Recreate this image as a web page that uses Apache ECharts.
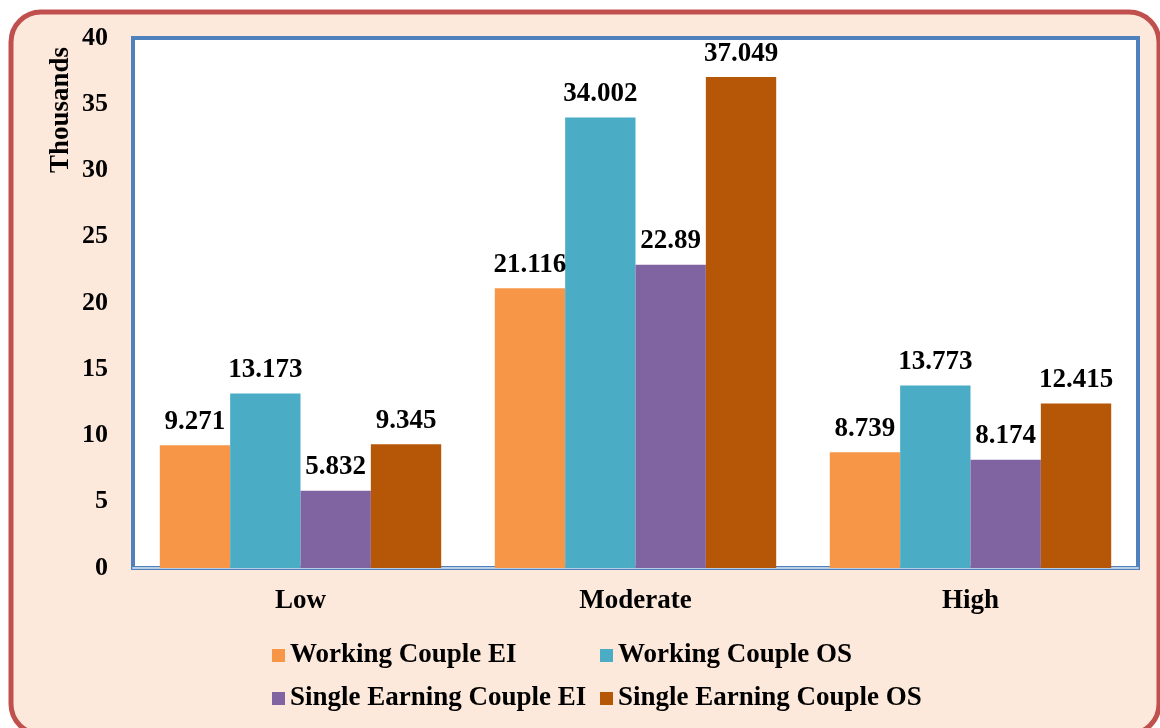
<!DOCTYPE html>
<html>
<head>
<meta charset="utf-8">
<script src="https://cdn.jsdelivr.net/npm/echarts@6/dist/echarts.min.js"></script>
<style>
  html, body { margin: 0; padding: 0; background: #fff; }
  #main { width: 1160px; height: 728px; }
</style>
</head>
<body>
<div id="main"></div>
<script>
// data (values in thousands)
var categories = ['Low', 'Moderate', 'High'];
var workingCoupleEI = [9.271, 21.116, 8.739];
var workingCoupleOS = [13.173, 34.002, 13.773];
var singleEarningEI = [5.832, 22.89, 8.174];
var singleEarningOS = [9.345, 37.049, 12.415];
var seriesNames = ['Working Couple EI', 'Working Couple OS', 'Single Earning Couple EI', 'Single Earning Couple OS'];
var seriesColors = ['#f79646', '#4bacc6', '#8064a2', '#b65708'];
var yTicks = [0, 5, 10, 15, 20, 25, 30, 35, 40];

var font = 'Liberation Serif';

function makeSeries(i, values) {
  return {
    name: seriesNames[i],
    type: 'bar',
    data: values,
    barGap: '0%',
    barCategoryGap: '16%',
    itemStyle: { color: seriesColors[i] },
    label: {
      show: true,
      position: 'top',
      distance: 10,
      color: '#000',
      fontFamily: font,
      fontWeight: 'bold',
      fontSize: 27
    }
  };
}

function legendAt(name, left, top) {
  return {
    data: [name],
    left: left,
    top: top,
    padding: 0,
    icon: 'rect',
    itemWidth: 13,
    itemHeight: 13,
    itemGap: 5,
    textStyle: { fontFamily: font, fontWeight: 'bold', fontSize: 27, color: '#000' }
  };
}

var myChart = echarts.init(document.getElementById('main'));

var option = {
  backgroundColor: '#ffffff',
  animation: false,
  graphic: [
    {
      type: 'rect',
      z: -10,
      shape: { x: 11, y: 12, width: 1148, height: 722, r: 30 },
      style: { fill: '#fde9db', stroke: '#c0504d', lineWidth: 5 }
    },
    {
      type: 'text',
      x: 61,
      y: 110,
      rotation: Math.PI / 2,
      style: {
        text: 'Thousands',
        fill: '#000',
        font: 'bold 27px "' + font + '"',
        align: 'center',
        verticalAlign: 'middle'
      }
    }
  ],
  grid: {
    show: true,
    left: 133,
    right: 22,
    top: 38,
    bottom: 160,
    backgroundColor: '#ffffff',
    borderColor: '#4f81bd',
    borderWidth: 4
  },
  legend: [
    legendAt(seriesNames[0], 272, 642),
    legendAt(seriesNames[1], 600, 642),
    legendAt(seriesNames[2], 272, 685),
    legendAt(seriesNames[3], 600, 685)
  ],
  xAxis: {
    type: 'category',
    data: categories,
    axisLine: { show: true, lineStyle: { color: '#b9cde5', width: 2 } },
    axisTick: { show: false },
    axisLabel: {
      margin: 20,
      color: '#000',
      fontFamily: font,
      fontWeight: 'bold',
      fontSize: 27
    }
  },
  yAxis: {
    type: 'value',
    min: yTicks[0],
    max: yTicks[yTicks.length - 1],
    interval: 5,
    splitLine: { show: false },
    axisLine: { show: false },
    axisTick: { show: false },
    axisLabel: {
      margin: 25,
      color: '#000',
      fontFamily: font,
      fontWeight: 'bold',
      fontSize: 26
    }
  },
  series: [
    makeSeries(0, workingCoupleEI),
    makeSeries(1, workingCoupleOS),
    makeSeries(2, singleEarningEI),
    makeSeries(3, singleEarningOS)
  ]
};

myChart.setOption(option);
</script>
</body>
</html>
